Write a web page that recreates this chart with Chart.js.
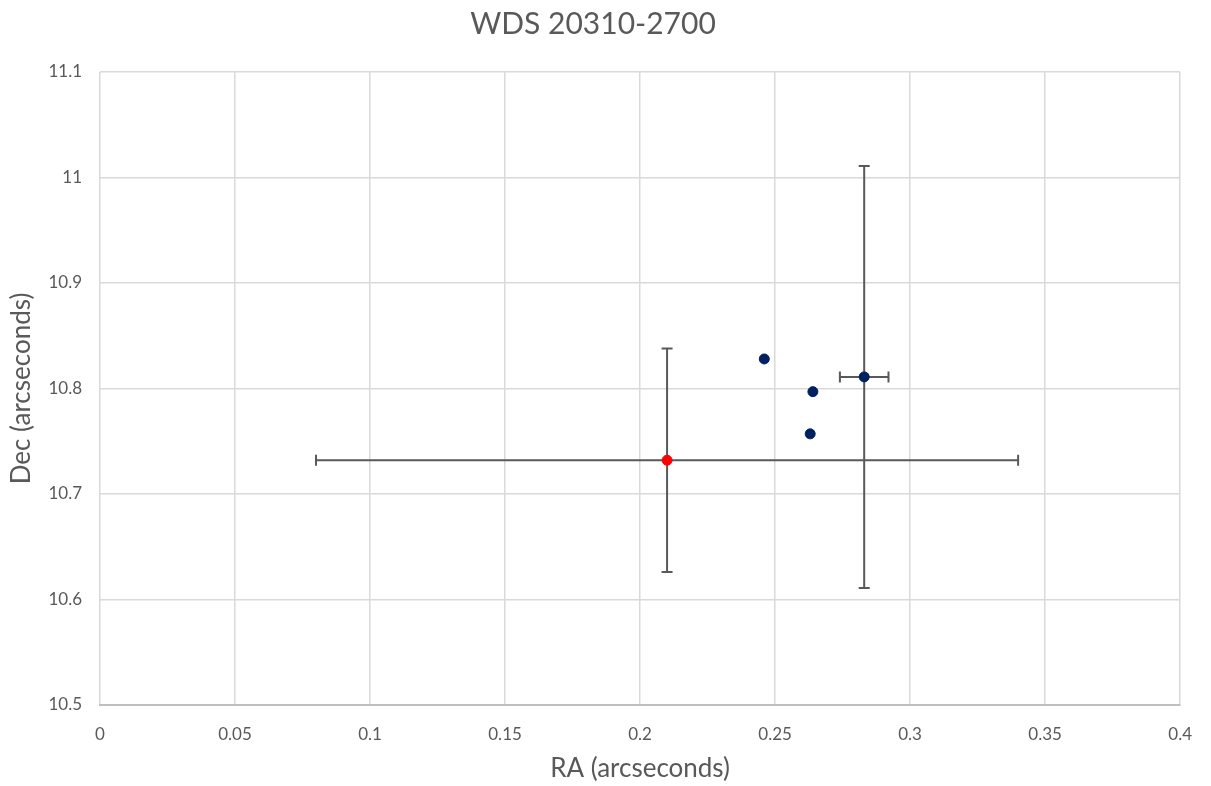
<!DOCTYPE html>
<html>
<head>
<meta charset="utf-8">
<script src="https://cdn.jsdelivr.net/npm/chart.js@4"></script>
<style>
  html, body { margin: 0; padding: 0; background: #fff; }
  #wrap { width: 1211px; height: 786px; }
</style>
</head>
<body>
<div id="wrap"><canvas id="chart"></canvas></div>
<script>
// measurements
const raValues = [0.246, 0.264, 0.263, 0.283];
const decValues = [10.828, 10.797, 10.757, 10.811];
const raErr = [0, 0, 0, 0.009];
const decErr = [0, 0, 0, 0.2];

// mean / predicted point
const meanRa = [0.21];
const meanDec = [10.732];
const meanRaErr = [0.13];
const meanDecErr = [0.106];

const xTicks = [0, 0.05, 0.1, 0.15, 0.2, 0.25, 0.3, 0.35, 0.4];
const yTicks = [10.5, 10.6, 10.7, 10.8, 10.9, 11, 11.1];

const toPoints = (xs, ys, xe, ye) => xs.map((x, i) => ({ x: x, y: ys[i], xErr: xe[i], yErr: ye[i] }));

const errorBars = {
    id: 'errorBars',
    beforeDatasetsDraw(chart) {
        const ctx = chart.ctx;
        const xs = chart.scales.x, ys = chart.scales.y;
        const cap = 5.5;
        ctx.save();
        ctx.strokeStyle = '#595959';
        ctx.lineWidth = 2;
        chart.data.datasets.forEach(ds => {
            ds.data.forEach(p => {
                const px = xs.getPixelForValue(p.x), py = ys.getPixelForValue(p.y);
                if (p.xErr) {
                    const x1 = xs.getPixelForValue(p.x - p.xErr), x2 = xs.getPixelForValue(p.x + p.xErr);
                    ctx.beginPath();
                    ctx.moveTo(x1, py); ctx.lineTo(x2, py);
                    ctx.moveTo(x1, py - cap); ctx.lineTo(x1, py + cap);
                    ctx.moveTo(x2, py - cap); ctx.lineTo(x2, py + cap);
                    ctx.stroke();
                }
                if (p.yErr) {
                    const y1 = ys.getPixelForValue(p.y - p.yErr), y2 = ys.getPixelForValue(p.y + p.yErr);
                    ctx.beginPath();
                    ctx.moveTo(px, y1); ctx.lineTo(px, y2);
                    ctx.moveTo(px - cap, y1); ctx.lineTo(px + cap, y1);
                    ctx.moveTo(px - cap, y2); ctx.lineTo(px + cap, y2);
                    ctx.stroke();
                }
            });
        });
        ctx.restore();
    }
};

const ctx = document.getElementById('chart').getContext('2d');
const myChart = new Chart(ctx, {
    type: 'scatter',
    data: {
        datasets: [{
            label: 'Measurements',
            data: toPoints(raValues, decValues, raErr, decErr),
            backgroundColor: '#002060',
            borderColor: '#002060',
            pointRadius: 5,
            pointHoverRadius: 5
        }, {
            label: 'Mean',
            data: toPoints(meanRa, meanDec, meanRaErr, meanDecErr),
            backgroundColor: '#ff0000',
            borderColor: '#ff0000',
            pointRadius: 5,
            pointHoverRadius: 5
        }]
    },
    options: {
        responsive: true,
        maintainAspectRatio: false,
        animation: false,
        layout: { padding: { left: 0, right: 25, top: 0, bottom: 0 } },
        plugins: {
            legend: { display: false },
            tooltip: { enabled: false },
            title: {
                display: true,
                text: 'WDS 20310-2700',
                color: '#595959',
                font: { family: 'Lato', size: 30, weight: 'normal' },
                padding: { top: 6, bottom: 30 }
            }
        },
        scales: {
            x: {
                type: 'linear',
                min: 0,
                max: 0.4,
                afterBuildTicks: axis => { axis.ticks = xTicks.map(v => ({ value: v })); },
                afterFit: axis => { axis.height = 81; },
                ticks: {
                    color: '#595959',
                    font: { family: 'Lato', size: 17 },
                    padding: 19,
                    maxRotation: 0,
                    callback: v => String(v)
                },
                grid: { color: '#d9d9d9', lineWidth: 1.5, drawTicks: false },
                border: { color: '#bfbfbf', width: 2 },
                title: {
                    display: true,
                    text: 'RA (arcseconds)',
                    color: '#595959',
                    font: { family: 'Lato', size: 26 },
                    padding: { top: 4, bottom: 2 }
                }
            },
            y: {
                type: 'linear',
                min: 10.5,
                max: 11.1,
                afterBuildTicks: axis => { axis.ticks = yTicks.map(v => ({ value: v })); },
                afterFit: axis => { axis.width = 100; },
                ticks: {
                    color: '#595959',
                    font: { family: 'Lato', size: 17 },
                    padding: 18,
                    callback: v => String(v)
                },
                grid: { color: '#d9d9d9', lineWidth: 1.5, drawTicks: false },
                border: { display: false },
                title: {
                    display: true,
                    text: 'Dec (arcseconds)',
                    color: '#595959',
                    font: { family: 'Lato', size: 26 },
                    padding: { top: 6, bottom: 4 }
                }
            }
        }
    },
    plugins: [errorBars]
});
</script>
</body>
</html>
